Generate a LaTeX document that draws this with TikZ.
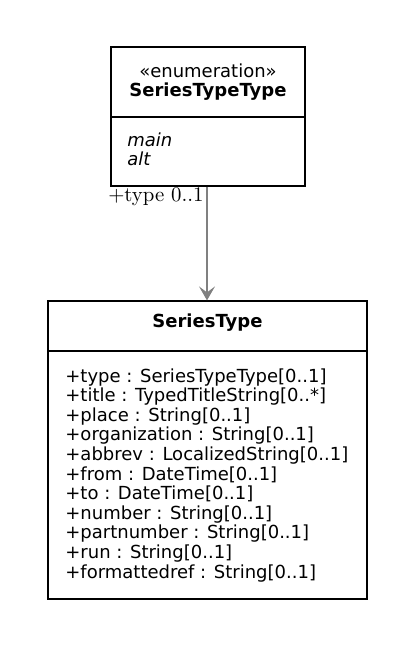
\documentclass[tikz,border=0pt]{standalone}
\usepackage{fontspec}
\setsansfont{DejaVu Sans}
\usetikzlibrary{arrows.meta,positioning}
\tikzset{
	compart/.style = {draw, rectangle, inner sep = 0pt, line width = 0.6pt},
	umltext/.style = {font = \sffamily\fontsize{9}{9.8}\selectfont, inner sep = 0pt},
	attr/.style = {umltext, anchor = base west},
	literal/.style = {umltext, anchor = base west, font = \sffamily\itshape\fontsize{9}{9.8}\selectfont},
	rolelabel/.style = {font = \fontsize{10.4}{12}\selectfont, inner sep = 0pt, anchor = base east},
	assoc/.style = {draw = gray, line width = 0.65pt, -{Stealth[length = 7pt, width = 8pt, inset = 3pt, gray]}}
}

\begin{document}
\begin{tikzpicture}[x = 0.5pt, y = -0.5pt]
			\useasboundingbox (0, 0) rectangle (415, 648);

			% enumeration
			\node [compart, minimum width = 97pt, minimum height = 35pt] (enumhead) at (208, 82) {};
			\node [compart, minimum width = 97pt, minimum height = 34.5pt] (enumbody) at (208, 151.5) {};
			\node [umltext, anchor = base] (stereo) at (208, 77) {«enumeration»};
			\node [umltext, anchor = base, font = \sffamily\bfseries\fontsize{9}{9.8}\selectfont] (enumname) at (208, 96.7) {SeriesTypeType};
			\foreach\lit [count = \i] in {main, alt}{
				\node [literal] (lit\i) at (127, {146 + (\i - 1) * 19.3}) {\lit};
			}

			% class
			\node [compart, minimum width = 159.5pt, minimum height = 25pt] (serieshead) at (207.5, 326) {};
			\node [compart, minimum width = 159.5pt, minimum height = 124pt] (seriesbody) at (207.5, 475) {};
			\node [umltext, anchor = base, font = \sffamily\bfseries\fontsize{9}{9.8}\selectfont] (seriesname) at (207.5, 327) {SeriesType};
			\foreach\attribute [count = \i] in {
				{+type : SeriesTypeType[0..1]},
				{+title : TypedTitleString[0..*]},
				{+place : String[0..1]},
				{+organization : String[0..1]},
				{+abbrev : LocalizedString[0..1]},
				{+from : DateTime[0..1]},
				{+to : DateTime[0..1]},
				{+number : String[0..1]},
				{+partnumber : String[0..1]},
				{+run : String[0..1]},
				{+formattedref : String[0..1]}
			}{
				\node [attr] (attr\i) at (65, {382 + (\i - 1) * 19.6}) {\attribute};
			}

			\draw [assoc] (enumbody.south -| 207, 0) -- (serieshead.north -| 207, 0);
			\node [rolelabel] (role) at (204, 201) {+type 0..1};
		\end{tikzpicture}
\end{document}
